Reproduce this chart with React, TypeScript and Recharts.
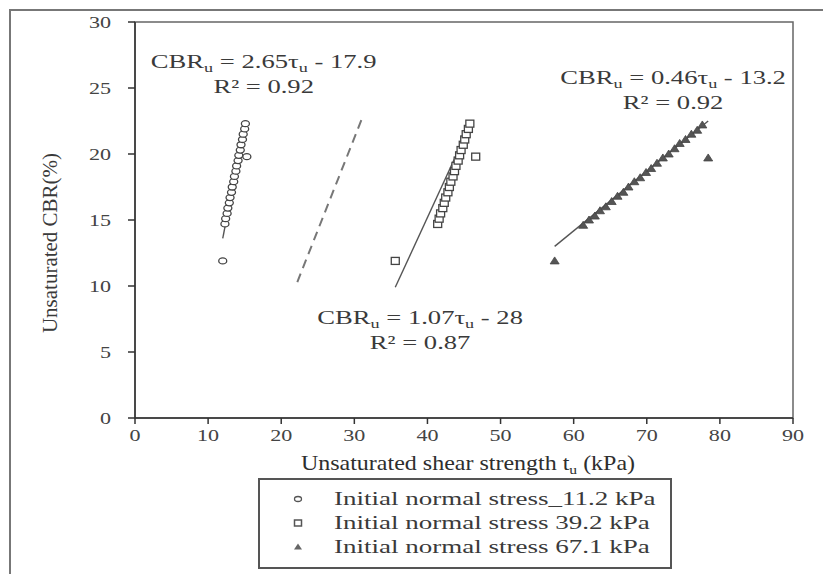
import { ScatterChart, Scatter, XAxis, YAxis, ReferenceArea, Legend } from 'recharts';

const FONT = '"Liberation Serif", "Times New Roman", serif';
const INK = '#3a3a3a';
// the source figure is stretched sideways, so text is widened a little
const STRETCH = 1.3;

const xTicks = [0, 10, 20, 30, 40, 50, 60, 70, 80, 90];
const yTicks = [0, 5, 10, 15, 20, 25, 30];

// initial normal stress 11.2 kPa
const stress11X = [12.0, 12.3, 12.4, 12.6, 12.7, 12.9, 13.0, 13.2, 13.3, 13.5, 13.6, 13.8, 13.9, 14.1, 14.2, 14.4, 14.5, 14.7, 14.8, 15.0, 15.1, 15.3];
const stress11Y = [11.9, 14.7, 15.1, 15.5, 15.9, 16.3, 16.7, 17.1, 17.5, 17.9, 18.3, 18.7, 19.1, 19.5, 19.9, 20.3, 20.7, 21.1, 21.5, 21.9, 22.3, 19.8];

// initial normal stress 39.2 kPa
const stress39X = [35.6, 41.4, 41.6, 41.8, 42.1, 42.3, 42.5, 42.8, 43.0, 43.2, 43.5, 43.7, 43.9, 44.2, 44.4, 44.6, 44.9, 45.1, 45.3, 45.6, 45.8, 46.6];
const stress39Y = [11.9, 14.7, 15.1, 15.5, 15.9, 16.3, 16.7, 17.1, 17.5, 17.9, 18.3, 18.7, 19.1, 19.5, 19.9, 20.3, 20.7, 21.1, 21.5, 21.9, 22.3, 19.8];

// initial normal stress 67.1 kPa
const stress67X = [57.4, 61.3, 62.1, 62.9, 63.6, 64.4, 65.2, 66.0, 66.8, 67.5, 68.3, 69.1, 69.9, 70.6, 71.4, 72.2, 73.0, 73.8, 74.5, 75.3, 76.1, 76.9, 77.6, 78.4];
const stress67Y = [11.9, 14.6, 15.0, 15.3, 15.7, 16.0, 16.4, 16.8, 17.1, 17.5, 17.9, 18.2, 18.6, 18.9, 19.3, 19.7, 20.0, 20.4, 20.8, 21.1, 21.5, 21.8, 22.2, 19.7];

// fitted lines (end points)
const fit11X = [12.0, 15.1];
const fit11Y = [13.6, 22.4];
const fit39X = [35.6, 46.0];
const fit39Y = [9.9, 22.4];
const fit67X = [57.4, 78.4];
const fit67Y = [13.0, 22.5];
const dashX = [22.2, 31.2];
const dashY = [10.3, 22.9];

// equation labels
const eqX = [17.6, 73.6, 39.0];
const eqY = [26.95, 25.75, 7.6];
const eqSlope = ['2.65', '0.46', '1.07'];
const eqIntercept = ['17.9', '13.2', '28'];
const eqR2 = ['0.92', '0.92', '0.87'];

const legendNames = [
  'Initial normal stress_11.2 kPa',
  'Initial normal stress 39.2 kPa',
  'Initial normal stress 67.1 kPa',
];

const pts = (xs: number[], ys: number[]) => xs.map((x, i) => ({ x, y: ys[i] }));

const s11 = pts(stress11X, stress11Y);
const s39 = pts(stress39X, stress39Y);
const s67 = pts(stress67X, stress67Y);
const annotations = eqX.map((x, i) => ({ x, y: eqY[i], slope: eqSlope[i], b: eqIntercept[i], r2: eqR2[i] }));

const CircleMark = (p: any) => (
  <ellipse cx={p.cx} cy={p.cy} rx={4} ry={3} fill="#fff" stroke="#444" strokeWidth={1.3} />
);
const SquareMark = (p: any) => (
  <rect x={p.cx - 4} y={p.cy - 3.5} width={8} height={7} fill="#fff" stroke="#444" strokeWidth={1.3} />
);
const TriangleMark = (p: any) => (
  <polygon
    points={`${p.cx},${p.cy - 4} ${p.cx - 4.5},${p.cy + 3} ${p.cx + 4.5},${p.cy + 3}`}
    fill="#555"
    stroke="#444"
    strokeWidth={0.8}
  />
);
const NoMark = () => <g />;

const EquationLabel = (p: any) => {
  const d = p.payload;
  return (
    <g transform={`translate(${p.cx},${p.cy}) scale(1.4,1)`} fontFamily={FONT} fill={INK} fontSize={19}>
      <text x={0} y={6} textAnchor="middle">
        <tspan>CBR</tspan>
        <tspan fontSize={13} dy={4}>u</tspan>
        <tspan dy={-4}>{` = ${d.slope}\u03C4`}</tspan>
        <tspan fontSize={13} dy={4}>u</tspan>
        <tspan dy={-4}>{`  - ${d.b}`}</tspan>
      </text>
      <text x={0} y={31} textAnchor="middle">
        {`R\u00B2 = ${d.r2}`}
      </text>
    </g>
  );
};

const XTick = (p: any) => (
  <g transform={`translate(${p.x},${p.y})`}>
    <text transform={`scale(${STRETCH},1)`} textAnchor="middle" dy="0.71em" fontFamily={FONT} fontSize={17} fill="#444">
      {p.payload.value}
    </text>
  </g>
);

const YTick = (p: any) => (
  <g transform={`translate(${p.x},${p.y})`}>
    <text transform={`scale(${STRETCH},1)`} textAnchor="end" dy="0.355em" fontFamily={FONT} fontSize={17} fill="#444">
      {p.payload.value}
    </text>
  </g>
);

const legendMarks = [
  (x: number, y: number) => <ellipse cx={x} cy={y} rx={3.5} ry={2.5} fill="#fff" stroke="#555" strokeWidth={1.3} />,
  (x: number, y: number) => <rect x={x - 3.5} y={y - 3} width={7} height={6} fill="#fff" stroke="#555" strokeWidth={1.5} />,
  (x: number, y: number) => <polygon points={`${x},${y - 3.5} ${x - 4},${y + 2.5} ${x + 4},${y + 2.5}`} fill="#666" />,
];

const LegendBox = () => (
  <div
    style={{
      boxSizing: 'border-box',
      width: '100%',
      height: '100%',
      border: '2px solid #555',
      fontFamily: FONT,
      fontSize: 18,
      color: INK,
      paddingTop: 7,
    }}
  >
    {legendNames.map((name, i) => (
      <div key={name} style={{ display: 'flex', alignItems: 'center', height: 24 }}>
        <svg width={74} height={24}>
          {legendMarks[i](38, 12)}
        </svg>
        <span
          style={{
            display: 'inline-block',
            whiteSpace: 'pre',
            fontFamily: FONT,
            transform: 'scaleX(1.5)',
            transformOrigin: 'left center',
          }}
        >
          {name}
        </span>
      </div>
    ))}
  </div>
);

const YTitle = (props: any) => {
  const vb = props.viewBox;
  const cy = vb.y + vb.height / 2 + 23;
  return (
    <text x={50} y={cy} transform={`rotate(-90, 50, ${cy})`} textAnchor="middle" dominantBaseline="central" fontFamily={FONT} fontSize={21} fill={INK}>
      Unsaturated CBR(%)
    </text>
  );
};

const XTitle = (props: any) => {
  const vb = props.viewBox;
  const cx = vb.x + vb.width / 2 + 4;
  return (
    <g transform={`translate(${cx},${vb.y + 52}) scale(1.2,1)`}>
      <text x={0} y={0} textAnchor="middle" fontFamily={FONT} fontSize={20} fill="#2e2e2e">
        <tspan>Unsaturated shear strength t</tspan>
        <tspan fontSize={13} dy={4}>u</tspan>
        <tspan dy={-4}> (kPa)</tspan>
      </text>
    </g>
  );
};

export default function App() {
  return (
    <div style={{ position: 'absolute', left: 0, top: 0, width: 823, height: 574, background: '#fff', fontFamily: FONT }}>
      <div
        style={{
          position: 'absolute',
          left: 9,
          top: 9,
          width: 830,
          height: 600,
          borderLeft: '2px solid #777',
          borderTop: '2px solid #777',
        }}
      />
      <ScatterChart width={823} height={574} margin={{ top: 22, right: 30, bottom: 96, left: 0 }}>
        <ReferenceArea x1={0} x2={90} y1={0} y2={30} fill="none" stroke="#666" strokeWidth={1.5} />
        <XAxis
          type="number"
          dataKey="x"
          domain={[0, 90]}
          ticks={xTicks}
          interval={0}
          height={60}
          tickSize={6}
          tickMargin={5}
          tick={XTick}
          stroke="#333"
          strokeWidth={1.5}
          label={{ content: XTitle }}
        />
        <YAxis
          type="number"
          dataKey="y"
          domain={[0, 30]}
          ticks={yTicks}
          interval={0}
          width={135}
          tickSize={7}
          tickMargin={17}
          tick={YTick}
          stroke="#333"
          strokeWidth={1.5}
          label={{ content: YTitle }}
        />
        <Legend
          layout="vertical"
          align="center"
          verticalAlign="middle"
          content={LegendBox}
          wrapperStyle={{ left: 258, top: 478, width: 414, height: 91 }}
        />
        <Scatter data={pts(dashX, dashY)} line={{ stroke: '#777', strokeWidth: 2, strokeDasharray: '9 6' }} shape={NoMark} legendType="none" isAnimationActive={false} />
        <Scatter data={pts(fit11X, fit11Y)} line={{ stroke: '#555', strokeWidth: 1.4 }} shape={NoMark} legendType="none" isAnimationActive={false} />
        <Scatter data={pts(fit39X, fit39Y)} line={{ stroke: '#555', strokeWidth: 1.4 }} shape={NoMark} legendType="none" isAnimationActive={false} />
        <Scatter data={pts(fit67X, fit67Y)} line={{ stroke: '#555', strokeWidth: 1.4 }} shape={NoMark} legendType="none" isAnimationActive={false} />
        <Scatter name={legendNames[0]} data={s11} shape={CircleMark} isAnimationActive={false} />
        <Scatter name={legendNames[1]} data={s39} shape={SquareMark} isAnimationActive={false} />
        <Scatter name={legendNames[2]} data={s67} shape={TriangleMark} isAnimationActive={false} />
        <Scatter data={annotations} shape={EquationLabel} legendType="none" isAnimationActive={false} />
      </ScatterChart>
    </div>
  );
}
